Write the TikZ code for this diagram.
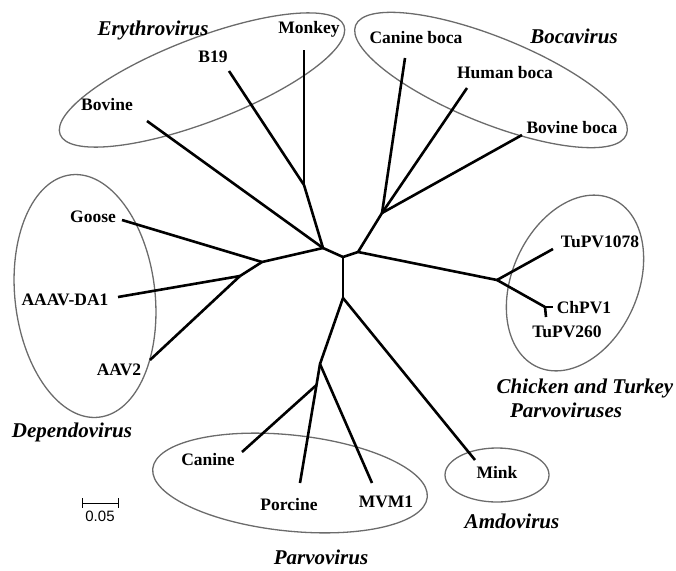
\documentclass[tikz,border=0pt]{standalone}
\usepackage{fontspec}
\setmainfont{Liberation Serif}
\newfontfamily\barfont{Liberation Sans}
\begin{document}
\begin{tikzpicture}[x=1pt,y=-1pt,
  branch/.style={line width=2.6pt, line join=round},
  group/.style={draw=black!58, line width=1.3pt},
  lbl/.style={font=\fontsize{17.5}{20}\selectfont\bfseries, anchor=base, inner sep=0pt},
  genus/.style={font=\fontsize{21}{24}\selectfont\bfseries\itshape, anchor=base, inner sep=0pt}]
\useasboundingbox (0,0) rectangle (676,570);

% group ellipses
\draw[group, rotate around={21:(202,80)}] (202,80) ellipse [x radius=152pt, y radius=42pt];
\draw[group, rotate around={-22:(491,80)}] (491,80) ellipse [x radius=146pt, y radius=43pt];
\draw[group, rotate around={6.6:(85,296)}] (85,296) ellipse [x radius=70pt, y radius=122pt];
\draw[group, rotate around={-24:(575,283)}] (575,283) ellipse [x radius=63pt, y radius=92pt];
\draw[group, rotate around={-6:(290,483)}] (290,483) ellipse [x radius=138pt, y radius=48pt];
\draw[group] (497,475) ellipse [x radius=52pt, y radius=27pt];

% internal nodes
\coordinate (A) at (323,248);
\coordinate (B) at (343,257);
\coordinate (C) at (358,252);
\coordinate (D) at (343,298);
\coordinate (E) at (262,262);
\coordinate (F) at (240,276);
\coordinate (G) at (304,185);
\coordinate (H) at (382,213);
\coordinate (J) at (497,280);
\coordinate (K) at (545,307);
\coordinate (P1) at (320,364);
\coordinate (P2) at (316.5,385);

% leaf ends
\coordinate (eBovine) at (147,121);
\coordinate (eB19) at (229,71);
\coordinate (eMonkey) at (304,50);
\coordinate (eGoose) at (122,220);
\coordinate (eAAAV) at (118,297);
\coordinate (eAAV2) at (150,360);
\coordinate (eCboca) at (405,58);
\coordinate (eHboca) at (467,88);
\coordinate (eBboca) at (522,135);
\coordinate (eTu1078) at (553,249);
\coordinate (eChPV) at (553,307);
\coordinate (eTu260) at (546,317);
\coordinate (eCanine) at (242,452);
\coordinate (ePorcine) at (300,483);
\coordinate (eMVM) at (372,483);
\coordinate (eMink) at (475,460);

% branches
\draw[branch] (A) -- (B) -- (C);
\draw[branch] (B) -- (D);
\draw[branch] (A) -- (E);
\draw[branch] (E) -- (F);
\draw[branch] (A) -- (G);
\draw[branch] (A) -- (eBovine);
\draw[branch] (G) -- (eB19);
\draw[branch] (G) -- (eMonkey);
\draw[branch] (E) -- (eGoose);
\draw[branch] (F) -- (eAAAV);
\draw[branch] (F) -- (eAAV2);
\draw[branch] (C) -- (H);
\draw[branch] (H) -- (eCboca);
\draw[branch] (H) -- (eHboca);
\draw[branch] (H) -- (eBboca);
\draw[branch] (C) -- (J);
\draw[branch] (J) -- (eTu1078);
\draw[branch] (J) -- (K);
\draw[branch] (K) -- (eChPV);
\draw[branch] (K) -- (eTu260);
\draw[branch] (D) -- (P1) -- (P2) -- (ePorcine);
\draw[branch] (P1) -- (eMVM);
\draw[branch] (P2) -- (eCanine);
\draw[branch] (D) -- (eMink);

% leaf labels
\node[lbl] (tMonkey) at (309,33) {Monkey};
\node[lbl] (tB19) at (213,62) {B19};
\node[lbl] (tBovine) at (107,110) {Bovine};
\node[lbl] (tCboca) at (416,43) {Canine boca};
\node[lbl] (tHboca) at (505,78) {Human boca};
\node[lbl] (tBboca) at (572,133) {Bovine boca};
\node[lbl] (tGoose) at (93,222) {Goose};
\node[lbl] (tAAAV) at (65,305) {AAAV-DA1};
\node[lbl] (tAAV2) at (119,375) {AAV2};
\node[lbl] (tTu1078) at (600,247) {TuPV1078};
\node[lbl] (tChPV) at (584,313) {ChPV1};
\node[lbl] (tTu260) at (567,337) {TuPV260};
\node[lbl] (tCanine) at (208,465) {Canine};
\node[lbl] (tPorcine) at (289,510) {Porcine};
\node[lbl] (tMVM) at (386,507) {MVM1};
\node[lbl] (tMink) at (497,478) {Mink};

% genus labels
\node[genus] (gEry) at (153,35) {Erythrovirus};
\node[genus] (gBoca) at (574,43) {Bocavirus};
\node[genus] (gDep) at (72,437) {Dependovirus};
\node[genus] (gCT1) at (585,393) {Chicken and Turkey};
\node[genus] (gCT2) at (566,417) {Parvoviruses};
\node[genus] (gParvo) at (321,564) {Parvovirus};
\node[genus] (gAmdo) at (512,528) {Amdovirus};

% scale bar
\coordinate (sL) at (82,503);
\coordinate (sR) at (118,503);
\draw[line width=1pt] (sL) -- (sR);
\draw[line width=1pt] ([yshift=5pt]sL) -- ([yshift=-5pt]sL);
\draw[line width=1pt] ([yshift=5pt]sR) -- ([yshift=-5pt]sR);
\node[font=\barfont\fontsize{15}{17}\selectfont, anchor=base, inner sep=0pt] (tScale) at (100,521) {0.05};
\end{tikzpicture}
\end{document}
